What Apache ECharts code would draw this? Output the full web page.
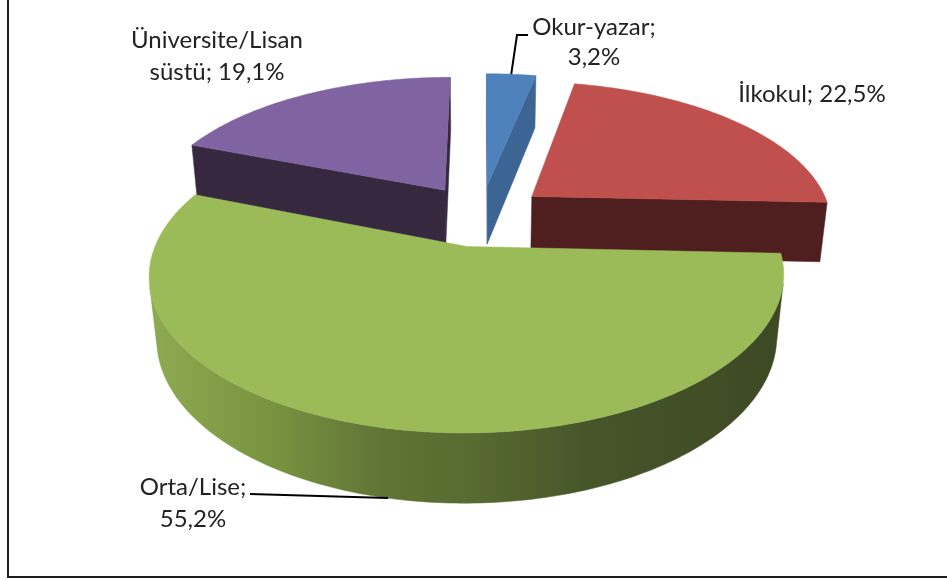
<!DOCTYPE html>
<html>
<head>
<meta charset="utf-8">
<script src="https://cdn.jsdelivr.net/npm/echarts@6/dist/echarts.min.js"></script>
<style>
  html, body { margin: 0; padding: 0; background: #fff; }
  #chart { width: 947px; height: 580px; }
</style>
</head>
<body>
<div id="chart"></div>
<script>
// dilimler (saat yönünde, tepeden başlayarak)
const categories = ['Okur-yazar', 'İlkokul', 'Orta/Lise', 'Üniversite/Lisan süstü'];
const values = [3.2, 22.5, 55.2, 19.1];
const labelTexts = ['Okur-yazar;\n3,2%', 'İlkokul; 22,5%', 'Orta/Lise;\n55,2%', 'Üniversite/Lisan\nsüstü; 19,1%'];

const topColors = ['#4f81bd', '#c0504d', '#9bbb59', '#8064a2'];
const sideColors = ['#3c6594', '#4f1f1f', '#5f7335', '#35283f'];

// 3B görünüm ayarları
const CX = 481, CY = 215, K = 300;
const ALPHA = 28 * Math.PI / 180;
const D = 5;        // kamera uzaklığı (yarıçap cinsinden)
const T = 0.232;    // dilim kalınlığı
const EXPLODE = 0.22;
const ca = Math.cos(ALPHA), sa = Math.sin(ALPHA);
const CAM_Z = -D * ca;

function proj(X, Y, Z) {
  const yv = Y * ca + Z * sa;
  const d = Z * ca - Y * sa;
  const s = D / (D + d);
  return [CX + K * X * s, CY - K * yv * s];
}

// kümülatif açılar
const total = values.reduce((a, b) => a + b, 0);
const sliceData = [];
let acc = 0;
values.forEach((v, i) => {
  sliceData.push([v, acc / total, (acc + v) / total, i]);
  acc += v;
});

// derinlik sırası: arkadakiler önce
const order = sliceData
  .map(d => ({ i: d[3], z: Math.cos(Math.PI * (d[1] + d[2])) }))
  .sort((a, b) => b.z - a.z)
  .map(o => o.i);

const greenSide = new echarts.graphic.LinearGradient(150, 0, 780, 0, [
  { offset: 0, color: '#8eaa51' },
  { offset: 0.18, color: '#7a9541' },
  { offset: 0.37, color: '#607436' },
  { offset: 0.52, color: '#576a30' },
  { offset: 0.7, color: '#46552a' },
  { offset: 1, color: '#3d4923' }
], true);

function renderSlice(params, api) {
  const idx = api.value(3);
  const a0 = api.value(1) * Math.PI * 2;
  const a1 = api.value(2) * Math.PI * 2;
  const m = (a0 + a1) / 2;
  const ex = EXPLODE * Math.sin(m), ez = EXPLODE * Math.cos(m);
  const rank = order.indexOf(idx);
  const side = idx === 2 ? greenSide : sideColors[idx];
  const children = [];

  const steps = Math.max(4, Math.ceil((a1 - a0) / (Math.PI / 180)));
  const thetas = [];
  for (let k = 0; k <= steps; k++) thetas.push(a0 + (a1 - a0) * k / steps);
  const outer = (th, y) => proj(ex + Math.sin(th), y, ez + Math.cos(th));

  // kesit yüzleri
  const cutFace = (th, nx, nz) => {
    const px = ex + 0.5 * Math.sin(th), pz = ez + 0.5 * Math.cos(th);
    if (nx * (0 - px) + nz * (CAM_Z - pz) <= 0) return;
    children.push({
      type: 'polygon',
      z2: rank * 10 + 1,
      shape: { points: [proj(ex, 0, ez), outer(th, 0), outer(th, -T), proj(ex, -T, ez)] },
      style: { fill: side, stroke: side, lineWidth: 0.5 }
    });
  };
  cutFace(a0, -Math.cos(a0), Math.sin(a0));
  cutFace(a1, Math.cos(a1), -Math.sin(a1));

  // dış yan yüz (görünen parçalar)
  let run = [];
  const flush = () => {
    if (run.length > 1) {
      const pts = run.map(th => outer(th, 0)).concat(run.slice().reverse().map(th => outer(th, -T)));
      children.push({
        type: 'polygon',
        z2: rank * 10 + 2,
        shape: { points: pts },
        style: { fill: side, stroke: side, lineWidth: 0.5 }
      });
    }
    run = [];
  };
  thetas.forEach(th => {
    const px = ex + Math.sin(th), pz = ez + Math.cos(th);
    const vis = Math.sin(th) * (0 - px) + Math.cos(th) * (CAM_Z - pz) > 0;
    if (vis) run.push(th); else flush();
  });
  flush();

  // üst yüz
  children.push({
    type: 'polygon',
    z2: rank * 10 + 5,
    shape: { points: [proj(ex, 0, ez)].concat(thetas.map(th => outer(th, 0))) },
    style: { fill: topColors[idx], stroke: topColors[idx], lineWidth: 0.5 }
  });

  // etiket çizgileri
  if (idx === 0) {
    const p = outer(m, 0);
    children.push({
      type: 'polyline', z2: 100,
      shape: { points: [p, [517, 35], [528, 35]] },
      style: { stroke: '#000', lineWidth: 2, fill: null }
    });
  } else if (idx === 2) {
    const p = outer(m, -T);
    children.push({
      type: 'polyline', z2: 100,
      shape: { points: [[250, 494], p] },
      style: { stroke: '#000', lineWidth: 2, fill: null }
    });
  }
  return { type: 'group', children };
}

const labelPos = [[594, 42], [812, 94], [193, 503], [217, 56]];
const labelLH = [30, 32, 32, 32];

const chart = echarts.init(document.getElementById('chart'));
chart.setOption({
  animation: false,
  graphic: [
    {
      type: 'rect', z: 0,
      shape: { x: 8, y: -5, width: 960, height: 582 },
      style: { fill: '#fff', stroke: '#1e1e1e', lineWidth: 2 }
    }
  ].concat(labelTexts.map((txt, i) => ({
    type: 'text', z: 10,
    x: labelPos[i][0], y: labelPos[i][1],
    style: {
      text: txt, align: 'center', verticalAlign: 'middle',
      font: '24px Lato', lineHeight: labelLH[i], fill: '#222'
    }
  }))),
  series: [{
    type: 'custom',
    name: 'Eğitim',
    coordinateSystem: 'none',
    z: 5,
    renderItem: renderSlice,
    data: sliceData
  }]
});
</script>
</body>
</html>
